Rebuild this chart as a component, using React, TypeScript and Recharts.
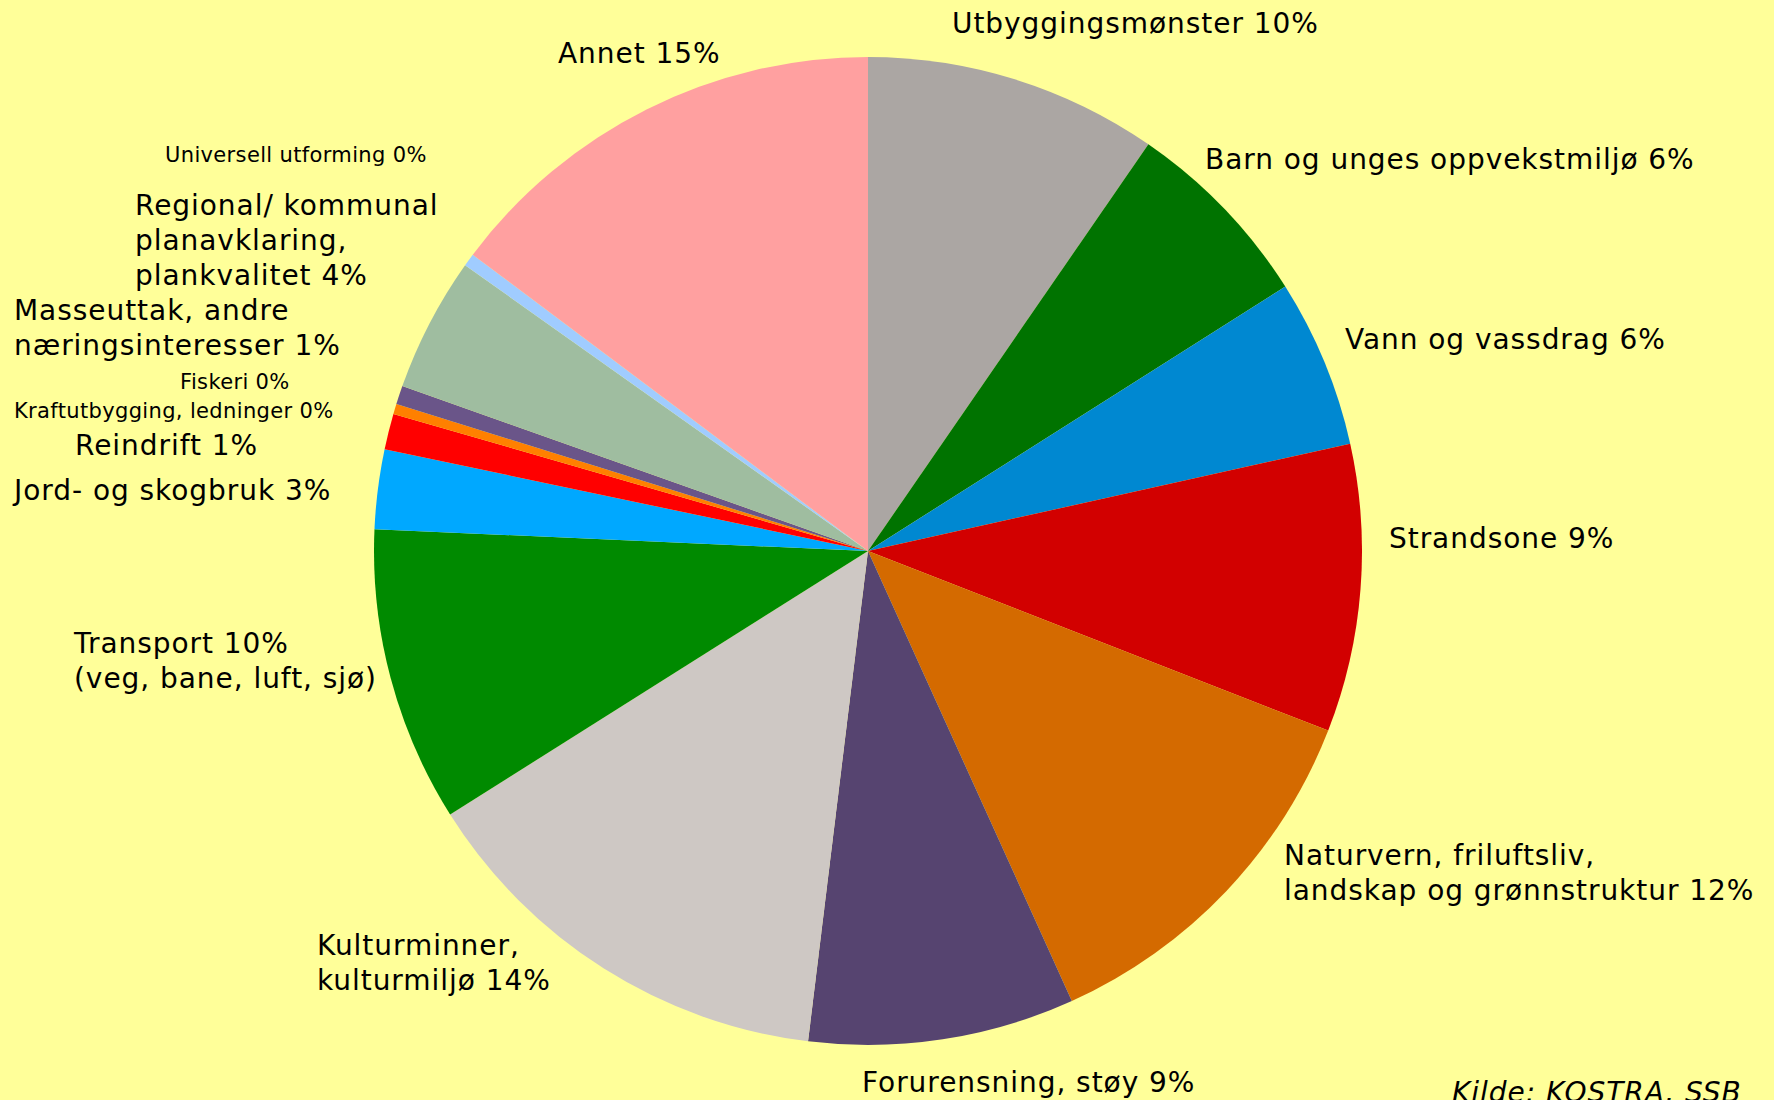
import { PieChart, Pie, Cell } from "recharts";

// andel av saker per tema, med klokka fra kl. 12
const CATEGORIES = [
  "Utbyggingsmønster",
  "Barn og unges oppvekstmiljø",
  "Vann og vassdrag",
  "Strandsone",
  "Naturvern, friluftsliv, landskap og grønnstruktur",
  "Forurensning, støy",
  "Kulturminner, kulturmiljø",
  "Transport (veg, bane, luft, sjø)",
  "Jord- og skogbruk",
  "Reindrift",
  "Kraftutbygging, ledninger",
  "Fiskeri",
  "Masseuttak, andre næringsinteresser",
  "Regional/ kommunal planavklaring, plankvalitet",
  "Universell utforming",
  "Annet",
];

const SHARES = [9.6, 6.4, 5.5, 9.4, 12.3, 8.7, 14.1, 9.65, 2.6, 1.17, 0.33, 0, 0.61, 4.4, 0.42, 14.75];

const LABEL_LINES = [
  ["Utbyggingsmønster 10%"],
  ["Barn og unges oppvekstmiljø 6%"],
  ["Vann og vassdrag 6%"],
  ["Strandsone 9%"],
  ["Naturvern, friluftsliv,", "landskap og grønnstruktur 12%"],
  ["Forurensning, støy 9%"],
  ["Kulturminner,", "kulturmiljø 14%"],
  ["Transport 10%", "(veg, bane, luft, sjø)"],
  ["Jord- og skogbruk 3%"],
  ["Reindrift 1%"],
  ["Kraftutbygging, ledninger 0%"],
  ["Fiskeri 0%"],
  ["Masseuttak, andre", "næringsinteresser 1%"],
  ["Regional/ kommunal", "planavklaring,", "plankvalitet 4%"],
  ["Universell utforming 0%"],
  ["Annet 15%"],
];

const COLORS = [
  "#aba6a3",
  "#007300",
  "#0088d1",
  "#d20000",
  "#d46a00",
  "#564470",
  "#cec8c4",
  "#008a00",
  "#00a8ff",
  "#ff0000",
  "#ff8000",
  "#ffcc00",
  "#6a5589",
  "#9fbda0",
  "#a0ccff",
  "#ffa0a0",
];

// where each label sits (left edge, first baseline, font size)
const LABEL_POS = [
  { x: 952, y: 33, size: 28 },
  { x: 1205, y: 169, size: 28 },
  { x: 1345, y: 349, size: 28 },
  { x: 1389, y: 548, size: 28 },
  { x: 1284, y: 865, size: 28 },
  { x: 862, y: 1092, size: 28 },
  { x: 317, y: 955, size: 28 },
  { x: 74, y: 653, size: 28 },
  { x: 14, y: 500, size: 28 },
  { x: 75, y: 455, size: 28 },
  { x: 14, y: 418, size: 21 },
  { x: 180, y: 389, size: 21 },
  { x: 14, y: 320, size: 28 },
  { x: 135, y: 215, size: 28 },
  { x: 165, y: 162, size: 21 },
  { x: 558, y: 63, size: 28 },
];

const data = CATEGORIES.map((name, i) => ({ name, value: SHARES[i] }));

// DejaVu is a bit narrower than Verdana, so spread the letters a little
const FONT = "'DejaVu Sans', Verdana, sans-serif";
const spacing = (size: number) => (size >= 28 ? 0.95 : 0.35);

function renderLabel(props: any) {
  const i = props.index;
  const pos = LABEL_POS[i];
  const lines = LABEL_LINES[i];
  if (!pos) return null;
  return (
    <text
      key={`lbl-${i}`}
      x={pos.x}
      y={pos.y}
      fontSize={pos.size}
      fontFamily={FONT}
      letterSpacing={spacing(pos.size)}
      fill="#000"
      textAnchor="start"
    >
      {lines.map((line, j) => (
        <tspan key={j} x={pos.x} dy={j === 0 ? 0 : 35}>
          {line}
        </tspan>
      ))}
    </text>
  );
}

export default function App() {
  return (
    <div
      style={{
        position: "fixed",
        left: 0,
        top: 0,
        width: 1774,
        height: 1100,
        background: "#ffff99",
        overflow: "hidden",
        fontFamily: FONT,
      }}
    >
      <PieChart width={1774} height={1100} margin={{ top: 0, right: 0, bottom: 0, left: 0 }}>
        <Pie
          data={data}
          dataKey="value"
          nameKey="name"
          cx={868}
          cy={551}
          outerRadius={494}
          startAngle={90}
          endAngle={-270}
          stroke="none"
          label={renderLabel}
          labelLine={false}
          isAnimationActive={false}
        >
          {data.map((d, i) => (
            <Cell key={d.name} fill={COLORS[i]} />
          ))}
        </Pie>
      </PieChart>
      <div
        style={{
          position: "absolute",
          left: 1452,
          top: 1076,
          fontSize: 28,
          fontStyle: "italic",
          letterSpacing: 0.95,
          lineHeight: "34px",
          color: "#000",
          whiteSpace: "nowrap",
        }}
      >
        Kilde: KOSTRA, SSB
      </div>
    </div>
  );
}
